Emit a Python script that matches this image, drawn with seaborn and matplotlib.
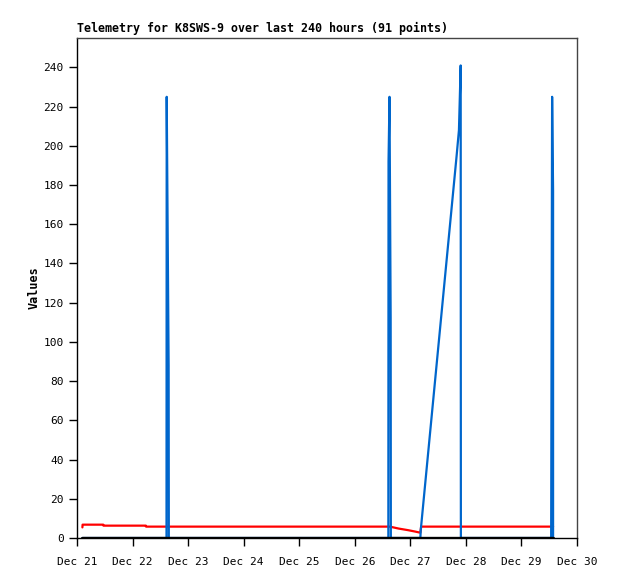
import numpy as np
import pandas as pd
import seaborn as sns
import matplotlib.pyplot as plt
import matplotlib.dates as mdates

# red trace (low level, ~6)
red_times = ["2023-12-21 02:20", "2023-12-21 02:25", "2023-12-21 11:20", "2023-12-21 11:25",
             "2023-12-22 05:45", "2023-12-22 05:50", "2023-12-26 15:10", "2023-12-26 19:00",
             "2023-12-26 23:00", "2023-12-27 02:00", "2023-12-27 04:20", "2023-12-27 04:40",
             "2023-12-29 13:40"]
red_values = [5.4, 6.8, 6.8, 6.3, 6.3, 5.8, 5.8, 4.8, 4.0, 3.3, 2.7, 5.8, 5.8]

# blue trace (spikes)
blue_times = ["2023-12-21 02:20",
              "2023-12-22 14:40", "2023-12-22 14:45", "2023-12-22 15:35", "2023-12-22 15:40",
              "2023-12-26 14:30", "2023-12-26 14:35", "2023-12-26 15:00", "2023-12-26 15:30", "2023-12-26 15:35",
              "2023-12-27 04:20", "2023-12-27 04:30", "2023-12-27 20:00", "2023-12-27 21:00",
              "2023-12-27 21:45", "2023-12-27 21:50",
              "2023-12-29 12:50", "2023-12-29 13:15", "2023-12-29 13:40", "2023-12-29 13:40"]
blue_values = [0,
               0, 225, 88, 0,
               0, 192, 225, 112, 0,
               0, 4, 195, 208,
               241, 0,
               0, 225, 177, 0]

# black trace (flat zero)
black_times = ["2023-12-21 02:20", "2023-12-29 13:40"]
black_values = [0, 0]

red = pd.DataFrame({"time": pd.to_datetime(red_times), "value": red_values})
blue = pd.DataFrame({"time": pd.to_datetime(blue_times), "value": blue_values})
black = pd.DataFrame({"time": pd.to_datetime(black_times), "value": black_values})

sns.set_style("white")
plt.rcParams['font.family'] = ['DejaVu Sans Mono']

fig = plt.figure(figsize=(6.18, 5.79), dpi=100)
ax = fig.add_axes([77/618, 41/579, 500/618, 500/579])

sns.lineplot(data=red, x="time", y="value", sort=False, estimator=None, color="#ff0000", lw=1.6, ax=ax)
sns.lineplot(data=blue, x="time", y="value", sort=False, estimator=None, color="#0066cc", lw=1.6, ax=ax)
sns.lineplot(data=black, x="time", y="value", sort=False, estimator=None, color="black", lw=2.4, ax=ax)

ax.set_xlim(pd.Timestamp("2023-12-21"), pd.Timestamp("2023-12-30"))
ax.set_ylim(0, 255)
ax.set_yticks(np.arange(0, 241, 20))
ax.xaxis.set_major_locator(mdates.DayLocator())
ax.xaxis.set_major_formatter(mdates.DateFormatter("%b %d"))

ax.set_xlabel("")
ax.set_ylabel("Values", fontsize=8.5, fontweight="bold", labelpad=2, color="black")
ax.set_title("Telemetry for K8SWS-9 over last 240 hours (91 points)",
             loc="left", fontsize=8.4, fontweight="bold", pad=4, color="black")

ax.tick_params(axis="both", which="major", direction="out", length=6, width=1,
               labelsize=8, colors="black", left=True, bottom=True)
ax.tick_params(axis="x", pad=8)
for side in ["left", "bottom"]:
    ax.spines[side].set_color("black")
for side in ["top", "right"]:
    ax.spines[side].set_color("#444444")
for s in ax.spines.values():
    s.set_linewidth(1)

fig.savefig("out.png", dpi=100)
